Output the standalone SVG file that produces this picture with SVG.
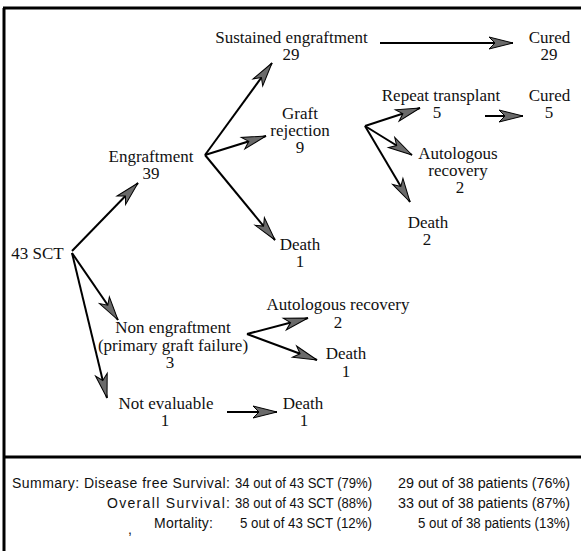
<svg xmlns="http://www.w3.org/2000/svg" width="581" height="551" viewBox="0 0 581 551">
<style>
.t{font-family:"Liberation Serif","Times New Roman",serif;font-size:17px;fill:#111;text-anchor:middle}
.s{font-family:"Liberation Sans",Arial,sans-serif;font-size:14px;fill:#111}
.c line{stroke:#000;stroke-width:2;marker-end:url(#ah)}
</style>
<defs>
<marker id="ah" markerUnits="userSpaceOnUse" viewBox="-26 -8 28 16" refX="0" refY="0" markerWidth="28" markerHeight="16" orient="auto">
<path d="M0,0 L-24,-6 L-18,0 L-24,6 Z" fill="#6a6a6a" stroke="#000" stroke-width="1"/>
</marker>
</defs>
<rect width="581" height="551" fill="#fff"/>
<g id="frame" stroke="#000" stroke-width="3" fill="none">
<line x1="4" y1="8" x2="4" y2="551"/>
<line x1="3" y1="8" x2="581" y2="8"/>
<line x1="3" y1="457" x2="581" y2="457"/>
</g>
<g class="c" id="connectors">
<line x1="72" y1="251" x2="138" y2="183"/>
<line x1="72" y1="253" x2="118" y2="320"/>
<line x1="72" y1="253" x2="107" y2="398"/>
<line x1="205" y1="155" x2="272" y2="63"/>
<line x1="205" y1="155" x2="266" y2="136"/>
<line x1="205" y1="155" x2="275" y2="240"/>
<line x1="380" y1="43" x2="513" y2="43"/>
<line x1="365" y1="126" x2="420" y2="108"/>
<line x1="365" y1="126" x2="412" y2="155"/>
<line x1="365" y1="126" x2="410" y2="202"/>
<line x1="485" y1="116" x2="523" y2="116"/>
<line x1="247" y1="334" x2="308" y2="318"/>
<line x1="247" y1="334" x2="317" y2="360"/>
<line x1="227" y1="412" x2="277" y2="412"/>
</g>
<g id="n-sct"><text class="t" x="37.5" y="259">43 SCT</text></g>
<g id="n-engraftment"><text class="t" x="151" y="162">Engraftment</text><text class="t" x="151" y="179">39</text></g>
<g id="n-sustained"><text class="t" x="291.5" y="43">Sustained engraftment</text><text class="t" x="291" y="60">29</text></g>
<g id="n-cured29"><text class="t" x="549.5" y="43">Cured</text><text class="t" x="549" y="60">29</text></g>
<g id="n-rejection"><text class="t" x="300" y="119">Graft</text><text class="t" x="300" y="136">rejection</text><text class="t" x="300" y="153">9</text></g>
<g id="n-repeat"><text class="t" x="441" y="101">Repeat transplant</text><text class="t" x="437" y="118">5</text></g>
<g id="n-cured5"><text class="t" x="549.5" y="101">Cured</text><text class="t" x="549" y="118">5</text></g>
<g id="n-autorec1"><text class="t" x="458" y="159">Autologous</text><text class="t" x="458" y="176">recovery</text><text class="t" x="460" y="193">2</text></g>
<g id="n-death2"><text class="t" x="428" y="228">Death</text><text class="t" x="427" y="245">2</text></g>
<g id="n-death1a"><text class="t" x="300" y="250">Death</text><text class="t" x="300" y="267">1</text></g>
<g id="n-nonengraft"><text class="t" x="173" y="333">Non engraftment</text><text class="t" x="173" y="351">(primary graft failure)</text><text class="t" x="170" y="368">3</text></g>
<g id="n-autorec2"><text class="t" x="338" y="310">Autologous recovery</text><text class="t" x="338" y="328">2</text></g>
<g id="n-death1b"><text class="t" x="346" y="359">Death</text><text class="t" x="346" y="377">1</text></g>
<g id="n-noteval"><text class="t" x="166" y="409">Not evaluable</text><text class="t" x="165" y="426">1</text></g>
<g id="n-death1c"><text class="t" x="303" y="409">Death</text><text class="t" x="304" y="426">1</text></g>
<g id="summary">
<text class="s" x="12" y="488" textLength="218" lengthAdjust="spacing">Summary: Disease free Survival:</text>
<text class="s" x="235" y="488" textLength="137" lengthAdjust="spacingAndGlyphs">34 out of 43 SCT (79%)</text>
<text class="s" x="398" y="488" textLength="172" lengthAdjust="spacingAndGlyphs">29 out of 38 patients (76%)</text>
<text class="s" x="107" y="508" textLength="123" lengthAdjust="spacing">Overall Survival:</text>
<text class="s" x="235" y="508" textLength="137" lengthAdjust="spacingAndGlyphs">38 out of 43 SCT (88%)</text>
<text class="s" x="398" y="508" textLength="172" lengthAdjust="spacingAndGlyphs">33 out of 38 patients (87%)</text>
<text class="s" x="128" y="534">,</text>
<text class="s" x="154" y="528" textLength="59" lengthAdjust="spacing">Mortality:</text>
<text class="s" x="240" y="528" textLength="132" lengthAdjust="spacingAndGlyphs">5 out of 43 SCT (12%)</text>
<text class="s" x="418" y="528" textLength="152" lengthAdjust="spacingAndGlyphs">5 out of 38 patients (13%)</text>
</g>
</svg>
